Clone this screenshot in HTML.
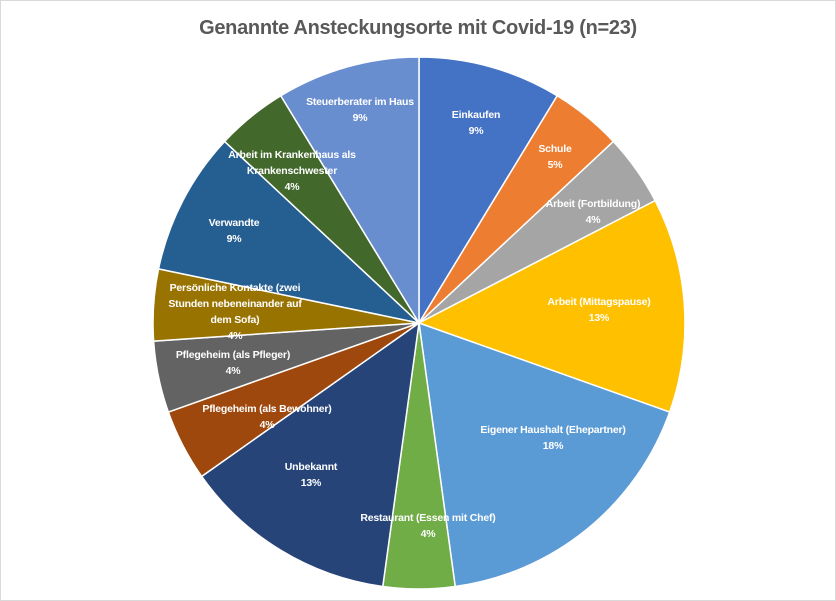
<!DOCTYPE html>
<html><head><meta charset="utf-8"><style>
html,body{margin:0;padding:0;background:#fff}
#c{position:relative;width:834px;height:599px;border:1px solid #d9d9d9;overflow:hidden;font-family:"Liberation Sans",sans-serif}
.t{position:absolute;left:0;width:834px;top:16px;text-align:center;font-size:20px;font-weight:bold;color:#595959;letter-spacing:-0.3px}
.l{position:absolute;color:#fff;font-size:10.5px;font-weight:bold;text-align:center;line-height:16px;transform:translateX(-50%);white-space:nowrap;letter-spacing:-0.2px}
</style></head><body><div id="c">
<div class="t">Genannte Ansteckungsorte mit Covid-19 (n=23)</div>
<svg id="s" width="834" height="599" style="position:absolute;left:0;top:0"></svg>
<div class="l" style="left:475px;top:106px">Einkaufen<br>9%</div>
<div class="l" style="left:554px;top:140px">Schule<br>5%</div>
<div class="l" style="left:592px;top:195px">Arbeit (Fortbildung)<br>4%</div>
<div class="l" style="left:598px;top:293px">Arbeit (Mittagspause)<br>13%</div>
<div class="l" style="left:552px;top:421px">Eigener Haushalt (Ehepartner)<br>18%</div>
<div class="l" style="left:427px;top:509px">Restaurant (Essen mit Chef)<br>4%</div>
<div class="l" style="left:310px;top:458px">Unbekannt<br>13%</div>
<div class="l" style="left:266px;top:400px">Pflegeheim (als Bewohner)<br>4%</div>
<div class="l" style="left:232px;top:346px">Pflegeheim (als Pfleger)<br>4%</div>
<div class="l" style="left:234px;top:279px">Persönliche Kontakte (zwei<br>Stunden nebeneinander auf<br>dem Sofa)<br>4%</div>
<div class="l" style="left:233px;top:214px">Verwandte<br>9%</div>
<div class="l" style="left:291px;top:146px">Arbeit im Krankenhaus als<br>Krankenschwester<br>4%</div>
<div class="l" style="left:359px;top:93px">Steuerberater im Haus<br>9%</div>
</div>
<script>
var d=[[2,"#4472C4"],[1,"#ED7D31"],[1,"#A5A5A5"],[3,"#FFC000"],[4,"#5B9BD5"],[1,"#70AD47"],[3,"#264478"],[1,"#9E480E"],[1,"#636363"],[1,"#997300"],[2,"#255E91"],[1,"#43682B"],[2,"#698ED0"]];
var cx=418,cy=322,r=266,a=0,h="";
d.forEach(function(s){var b=a+s[0]/23*2*Math.PI;
var x1=cx+r*Math.sin(a),y1=cy-r*Math.cos(a),x2=cx+r*Math.sin(b),y2=cy-r*Math.cos(b);
h+='<path d="M'+cx+' '+cy+'L'+x1+' '+y1+'A'+r+' '+r+' 0 '+((b-a)>Math.PI?1:0)+' 1 '+x2+' '+y2+'Z" fill="'+s[1]+'" stroke="#fff" stroke-width="1.5"/>';a=b;});
document.getElementById("s").innerHTML=h;
</script>
</body></html>
